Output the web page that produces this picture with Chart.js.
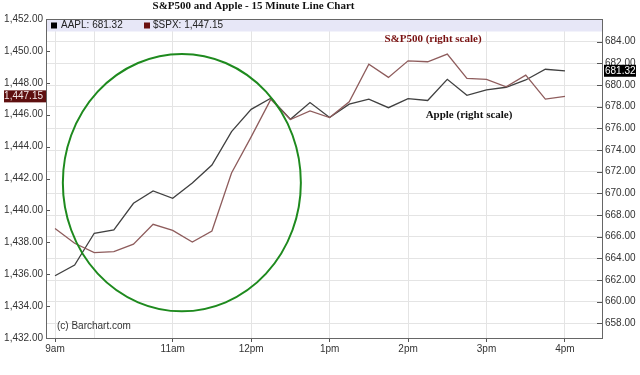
<!DOCTYPE html>
<html>
<head>
<meta charset="utf-8">
<script src="https://cdn.jsdelivr.net/npm/chart.js@4.4.0/dist/chart.umd.min.js"></script>
<style>
  body { margin: 0; background: #fff; }
</style>
</head>
<body>
<canvas id="line-chart" width="640" height="375"></canvas>
<script>
// 15 minute bars, 9:30 to 16:00
var times = ["9:30", "9:45", "10:00", "10:15", "10:30", "10:45", "11:00", "11:15", "11:30",
             "11:45", "12:00", "12:15", "12:30", "12:45", "13:00", "13:15", "13:30", "13:45",
             "14:00", "14:15", "14:30", "14:45", "15:00", "15:15", "15:30", "15:45", "16:00"];

var aapl = [662.40, 663.39, 666.32, 666.62, 669.09, 670.22, 669.55, 670.96, 672.62,
            675.70, 677.76, 678.78, 676.84, 678.39, 677.01, 678.24, 678.70, 677.91,
            678.74, 678.58, 680.53, 679.05, 679.55, 679.80, 680.47, 681.46, 681.32];

var spx = [1438.86, 1437.94, 1437.35, 1437.42, 1437.88, 1439.13, 1438.75, 1438.02, 1438.71,
           1442.35, 1444.61, 1446.96, 1445.70, 1446.24, 1445.82, 1446.81, 1449.16, 1448.34,
           1449.38, 1449.32, 1449.80, 1448.28, 1448.21, 1447.75, 1448.48, 1446.98, 1447.15];

var xTickTimes  = ["9:30", "10:00", "11:00", "12:00", "13:00", "14:00", "15:00", "16:00"];
var xTickLabels = ["9am", "", "11am", "12pm", "1pm", "2pm", "3pm", "4pm"];
var leftTicks  = [1432, 1434, 1436, 1438, 1440, 1442, 1444, 1446, 1448, 1450, 1452];
var rightTicks = [658, 660, 662, 664, 666, 668, 670, 672, 674, 676, 678, 680, 682, 684];

var lastAapl = aapl[aapl.length - 1];
var lastSpx = spx[spx.length - 1];

function toHours(t) {
    var p = t.split(":");
    return parseInt(p[0], 10) + parseInt(p[1], 10) / 60;
}

function money(v) {
    return v.toLocaleString("en-US", { minimumFractionDigits: 2, maximumFractionDigits: 2 });
}

var font = "'Liberation Sans', Arial, sans-serif";
var serif = "'Liberation Serif', 'Times New Roman', serif";

var overlay = {
    id: "overlay",
    afterDatasetsDraw: function (chart) {
        var c = chart.ctx;
        var a = chart.chartArea;
        var sx = chart.scales.x, yl = chart.scales.yL, yr = chart.scales.yR;
        c.save();

        // legend strip
        c.fillStyle = "#e7e7f7";
        c.fillRect(a.left, a.top, a.right - a.left, 12.5);
        c.font = "10px " + font;
        c.textBaseline = "middle";
        c.fillStyle = "#000";
        c.fillRect(51, 22.5, 6, 6);
        c.fillStyle = "#222";
        c.fillText("AAPL: " + lastAapl.toFixed(2), 61, 25.5);
        c.fillStyle = "#6a1010";
        c.fillRect(144, 22.5, 6, 6);
        c.fillStyle = "#222";
        c.fillText("$SPX: " + money(lastSpx), 153, 25.5);

        // green circle
        var cx = sx.getPixelForValue(toHours("11:07"));
        var cy = yl.getPixelForValue(1441.74);
        var rx = sx.getPixelForValue(toHours("11:07") + 1.517) - cx;
        var ry = yl.getPixelForValue(1441.74 - 8.07) - cy;
        c.beginPath();
        c.ellipse(cx, cy, rx, ry, 0, 0, Math.PI * 2);
        c.strokeStyle = "#1e8a1e";
        c.lineWidth = 2;
        c.stroke();

        // notes
        c.font = "bold 11px " + serif;
        c.textAlign = "center";
        c.fillStyle = "#7a1212";
        c.fillText("S&P500 (right scale)", sx.getPixelForValue(14.318), yr.getPixelForValue(684.23));
        c.fillStyle = "#111";
        c.fillText("Apple (right scale)", sx.getPixelForValue(14.777), yr.getPixelForValue(677.24));
        c.fillText("S&P500 and Apple - 15 Minute Line Chart", 253.5, 6);

        c.textAlign = "left";
        c.font = "10px " + font;
        c.fillStyle = "#333";
        c.fillText("(c) Barchart.com", 57, 326);

        // inner ticks on the two value axes
        c.strokeStyle = "#555";
        c.lineWidth = 1;
        c.beginPath();
        leftTicks.forEach(function (v) {
            var y = Math.round(yl.getPixelForValue(v)) + 0.5;
            c.moveTo(a.left, y); c.lineTo(a.left + 4, y);
        });
        rightTicks.forEach(function (v) {
            var y = Math.round(yr.getPixelForValue(v)) + 0.5;
            c.moveTo(a.right - 5, y); c.lineTo(a.right, y);
        });
        c.stroke();

        // frame
        c.strokeStyle = "#666";
        c.strokeRect(Math.round(a.left) + 0.5, Math.round(a.top) + 0.5,
                     Math.round(a.right - a.left), Math.round(a.bottom - a.top));

        // last value tags
        var ys = yl.getPixelForValue(lastSpx);
        c.fillStyle = "#5e0f0f";
        c.fillRect(4, ys - 6, a.left - 4, 12);
        c.fillStyle = "#f4e8e8";
        c.textAlign = "right";
        c.fillText(money(lastSpx), a.left - 3, ys);
        var ya = yr.getPixelForValue(lastAapl);
        c.fillStyle = "#000";
        c.fillRect(a.right + 2, ya - 6, 32, 12);
        c.fillStyle = "#fff";
        c.textAlign = "left";
        c.fillText(lastAapl.toFixed(2), a.right + 3, ya);

        c.restore();
    }
};

var ctx = document.getElementById("line-chart");
var chart = new Chart(ctx, {
    type: "line",
    data: {
        datasets: [{
            label: "$SPX",
            data: times.map(function (t, i) { return { x: toHours(t), y: spx[i] }; }),
            yAxisID: "yL",
            borderColor: "#8e5c5c",
            borderWidth: 1.3,
            pointRadius: 0,
            tension: 0
        }, {
            label: "AAPL",
            data: times.map(function (t, i) { return { x: toHours(t), y: aapl[i] }; }),
            yAxisID: "yR",
            borderColor: "#404040",
            borderWidth: 1.3,
            pointRadius: 0,
            tension: 0
        }]
    },
    options: {
        responsive: false,
        animation: false,
        devicePixelRatio: 1,
        layout: { padding: { top: 19, left: 0, right: 0, bottom: 0 } },
        plugins: {
            legend: { display: false },
            tooltip: { enabled: false }
        },
        scales: {
            x: {
                type: "linear",
                min: 9.385,
                max: 16.472,
                afterBuildTicks: function (scale) {
                    scale.ticks = xTickTimes.map(function (t) { return { value: toHours(t) }; });
                },
                afterFit: function (scale) { scale.height = 37; },
                grid: {
                    color: "#e4e4e4",
                    tickLength: 4,
                    tickColor: function (c) { return xTickLabels[c.index] ? "#555" : "rgba(0,0,0,0)"; }
                },
                border: { display: true, color: "#666" },
                ticks: {
                    autoSkip: false,
                    maxRotation: 0,
                    padding: 1,
                    color: "#333",
                    font: { family: font, size: 10 },
                    callback: function (v, i) { return xTickLabels[i]; }
                }
            },
            yL: {
                type: "linear",
                position: "left",
                min: 1432,
                max: 1452,
                afterBuildTicks: function (scale) {
                    scale.ticks = leftTicks.map(function (v) { return { value: v }; });
                },
                afterFit: function (scale) { scale.width = 46; },
                grid: { display: false, drawTicks: false },
                border: { display: true, color: "#666" },
                ticks: {
                    padding: 3,
                    color: "#333",
                    font: { family: font, size: 10 },
                    callback: function (v) { return money(v); }
                }
            },
            yR: {
                type: "linear",
                position: "right",
                min: 656.65,
                max: 686.1,
                afterBuildTicks: function (scale) {
                    scale.ticks = rightTicks.map(function (v) { return { value: v }; });
                },
                afterFit: function (scale) { scale.width = 38; },
                grid: { color: "#e4e4e4", drawTicks: false },
                border: { display: true, color: "#666" },
                ticks: {
                    padding: 3,
                    color: "#333",
                    font: { family: font, size: 10 },
                    callback: function (v) { return v.toFixed(2); }
                }
            }
        }
    },
    plugins: [overlay]
});
</script>
</body>
</html>
